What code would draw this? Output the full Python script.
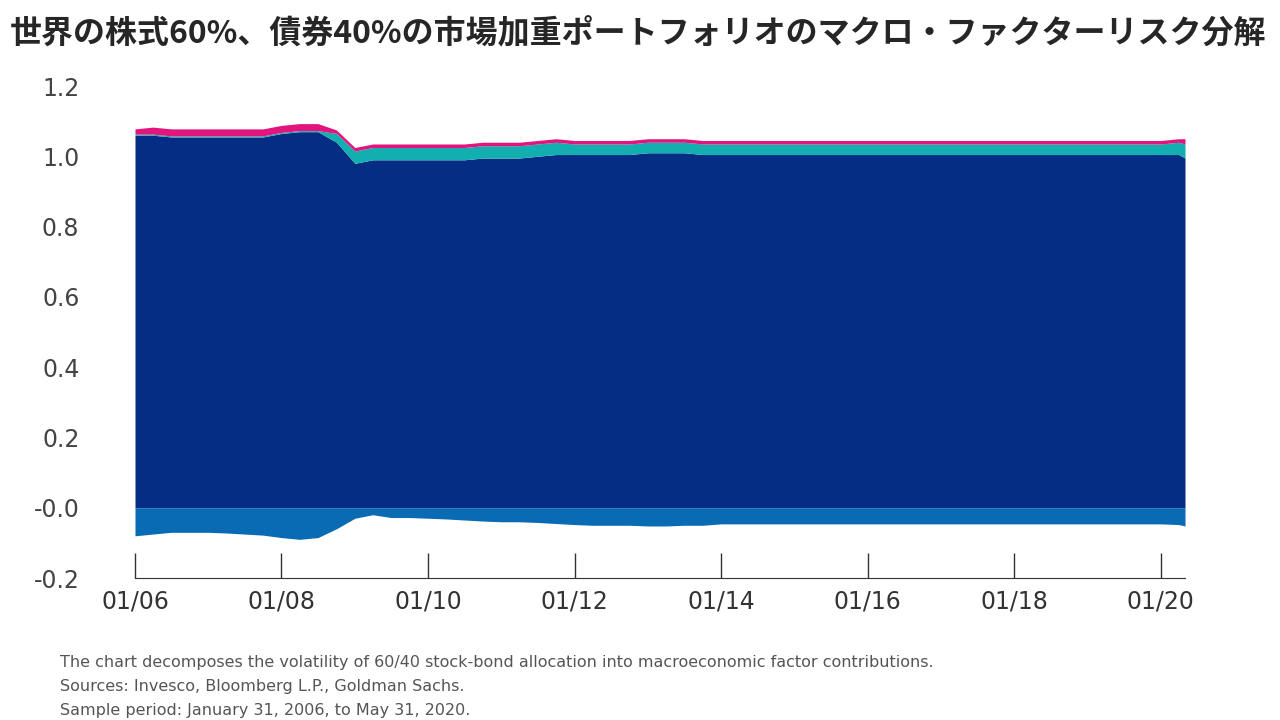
import numpy as np, pandas as pd, matplotlib
matplotlib.use("Agg")
import matplotlib.pyplot as plt, matplotlib.dates as mdates, seaborn as sns

dates = list(pd.date_range('2006-01-31', periods=57, freq='3ME')) + [pd.Timestamp('2020-04-30'), pd.Timestamp('2020-05-31')]
equity = [1.06,1.06,1.055,1.055, 1.055,1.055,1.055,1.055, 1.065,1.07,1.07,1.04,
          0.98,0.99,0.99,0.99, 0.99,0.99,0.99,0.995, 0.995,0.995,1.0,1.005,
          1.005,1.005,1.005,1.005, 1.01,1.01,1.01,1.005] + [1.005]*24 + [1.005,1.005,0.995]
growth = [0.003]*11 + [0.025] + [0.035]*12 + [0.03]*32 + [0.03,0.035,0.04]
inflation = [0.015,0.02,0.02,0.02, 0.02,0.02,0.02,0.02, 0.02,0.02,0.02,0.01] + [0.01]*44 + [0.01,0.01,0.015]
rates = [-0.08,-0.075,-0.07,-0.07, -0.07,-0.072,-0.075,-0.078, -0.085,-0.09,-0.085,-0.06,
         -0.03,-0.02,-0.028,-0.028, -0.03,-0.032,-0.035,-0.038, -0.04,-0.04,-0.042,-0.045,
         -0.048,-0.05,-0.05,-0.05, -0.052,-0.052,-0.05,-0.05] + [-0.046]*24 + [-0.046,-0.048,-0.052]

sns.set_style("white")
fig = plt.figure(figsize=(12.8,7.2), dpi=100)
ax = fig.add_axes([135/1280, 1-578/720, 1050/1280, (578-86)/720])
ax.stackplot(dates, equity, growth, inflation, colors=['#052D83','#13AFB0','#E2157E'], linewidth=0)
ax.fill_between(dates, rates, 0, color='#0A6BB5', linewidth=0)
ax.set_ylim(-0.2,1.2)
ax.set_xlim(dates[0], dates[-1])
ax.set_yticks(np.arange(-0.2,1.21,0.2))
ax.set_yticklabels(['-0.2','-0.0','0.2','0.4','0.6','0.8','1.0','1.2'])
ticks = [pd.Timestamp(f'{y}-01-31') for y in range(2006,2021,2)]
ax.set_xticks(ticks)
ax.set_xticklabels([f'01/{str(y)[2:]}' for y in range(2006,2021,2)])
for s in ['left','right','top']: ax.spines[s].set_visible(False)
ax.spines['bottom'].set_color('#333333')
ax.tick_params(axis='x', bottom=True, direction='in', length=18, width=1, color='#333333', labelsize=17, labelcolor='#333333', pad=8)
ax.tick_params(axis='y', left=False, length=0, labelsize=17, labelcolor='#444444', pad=40)
fig.text(0.008, 0.952, '世界の株式60%、債券40%の市場加重ポートフォリオのマクロ・ファクターリスク分解',
         fontfamily='Noto Sans CJK JP', fontweight='bold', fontsize=23, va='center')
foot = ['The chart decomposes the volatility of 60/40 stock-bond allocation into macroeconomic factor contributions.',
        'Sources: Invesco, Bloomberg L.P., Goldman Sachs.',
        'Sample period: January 31, 2006, to May 31, 2020.']
for i,t in enumerate(foot):
    fig.text(60/1280, 1-(662+24*i)/720, t, fontsize=11.5, color='#555555', va='center')
fig.savefig('out.png', dpi=100)
